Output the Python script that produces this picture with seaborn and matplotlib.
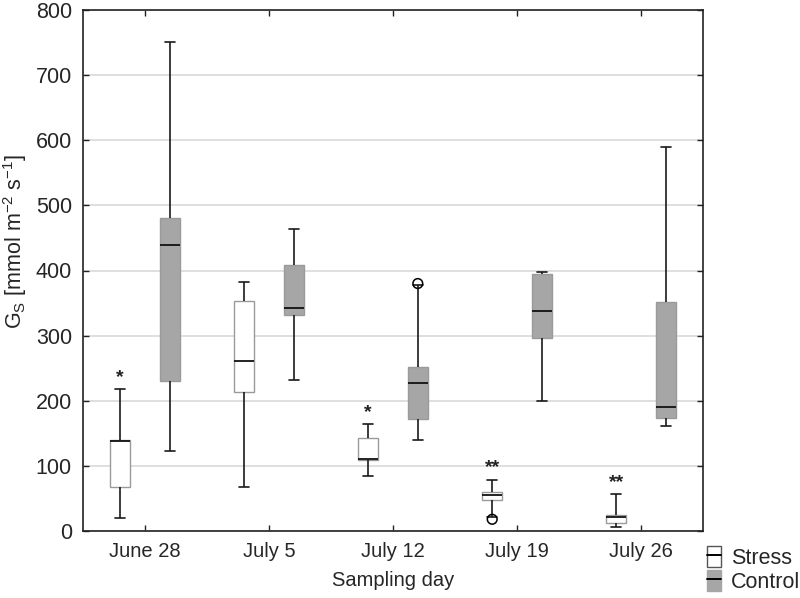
import numpy as np
import pandas as pd
import matplotlib
matplotlib.use("Agg")
import matplotlib.pyplot as plt
import seaborn as sns
from matplotlib.patches import Patch
from matplotlib.lines import Line2D
from matplotlib.legend_handler import HandlerTuple

# ---- data ----
days = ["June 28", "July 5", "July 12", "July 19", "July 26"]
groups = ["Stress", "Control"]

stress_min = [20, 68, 84, 22, 6]
stress_q1 = [67, 213, 109, 47, 13]
stress_med = [138, 261, 111, 55, 22]
stress_q3 = [140, 353, 143, 60, 24]
stress_max = [218, 383, 164, 79, 57]

control_min = [123, 232, 139, 200, 161]
control_q1 = [231, 331, 172, 297, 173]
control_med = [439, 343, 227, 338, 191]
control_q3 = [480, 408, 252, 395, 351]
control_max = [751, 463, 378, 398, 590]

outlier_day = ["July 12", "July 19"]
outlier_group = ["Control", "Stress"]
outlier_value = [380, 18]

stress_marks = ["*", "", "*", "**", "**"]

# ---- build long table from five-number summaries ----
rows = []
for i, d in enumerate(days):
    for v in (stress_min[i], stress_q1[i], stress_med[i], stress_q3[i], stress_max[i]):
        rows.append((d, "Stress", v))
    for v in (control_min[i], control_q1[i], control_med[i], control_q3[i], control_max[i]):
        rows.append((d, "Control", v))
df = pd.DataFrame(rows, columns=["day", "group", "value"])
out_df = pd.DataFrame({"day": outlier_day, "group": outlier_group, "value": outlier_value})

sns.set_style("white")
plt.rcParams["font.family"] = ["Liberation Sans", "DejaVu Sans"]
plt.rcParams["mathtext.fontset"] = "custom"
plt.rcParams["mathtext.rm"] = "Liberation Sans"
plt.rcParams["mathtext.it"] = "Liberation Sans:italic"

fig = plt.figure(figsize=(8.0, 5.98), dpi=100)
ax = fig.add_axes([83 / 800, 67 / 598, 620 / 800, 521 / 598])

palette = {"Stress": "white", "Control": "#a6a6a6"}
sns.boxplot(
    data=df, x="day", y="value", hue="group", order=days, hue_order=groups,
    palette=palette, whis=(0, 100), width=0.8, gap=0.6, dodge=True,
    linecolor="black", linewidth=1.2, showfliers=False, legend=False, ax=ax,
    boxprops=dict(edgecolor="#9a9a9a", linewidth=1.0),
    medianprops=dict(color="#111111", linewidth=1.3),
    whiskerprops=dict(color="#1a1a1a", linewidth=1.2),
    capprops=dict(color="#1a1a1a", linewidth=1.2),
)

sns.stripplot(
    data=out_df, x="day", y="value", hue="group", order=days, hue_order=groups,
    dodge=True, jitter=False, palette={"Stress": "black", "Control": "black"},
    marker="o", size=7, legend=False, ax=ax, zorder=5,
)
for coll in ax.collections:
    coll.set_facecolor("none")
    coll.set_edgecolor("black")
    coll.set_linewidth(1.1)

# significance marks above stress whiskers
for i, m in enumerate(stress_marks):
    if m:
        ax.text(i - 0.2, stress_max[i] + 5, m, ha="center", va="bottom",
                fontsize=14, fontweight="bold", color="#222222")

ax.set_ylim(0, 800)
ax.set_xlim(-0.5, 4.5)
ax.set_yticks(np.arange(0, 801, 100))
ax.yaxis.grid(True, color="#dcdcdc", linewidth=1.3)
ax.xaxis.grid(False)
ax.set_axisbelow(True)

for s in ax.spines.values():
    s.set_visible(True)
    s.set_color("#222222")
    s.set_linewidth(1.2)

ax.tick_params(axis="both", direction="in", length=4, width=1.0, color="#222222",
               top=True, right=True, bottom=True, left=True)
ax.tick_params(axis="y", labelsize=15.5, pad=8)
ax.tick_params(axis="x", labelsize=14.5, pad=8)

ax.set_xlabel("Sampling day", fontsize=14.5, labelpad=7)
ax.set_ylabel(r"G$_\mathregular{S}$ [mmol m$^\mathregular{-2}$ s$^\mathregular{-1}$]",
              fontsize=15.5)
ax.yaxis.set_label_coords(-0.087, 0.555)

handles = [
    (Patch(facecolor="white", edgecolor="#555555", linewidth=1.0),
     Line2D([], [], color="black", linewidth=1.4)),
    (Patch(facecolor="#a6a6a6", edgecolor="#a6a6a6", linewidth=1.0),
     Line2D([], [], color="black", linewidth=1.4)),
]
fig.legend(handles, groups, handler_map={tuple: HandlerTuple(ndivide=1, pad=0)},
           loc="upper left", bbox_to_anchor=(705 / 800, 1 - 544 / 598),
           frameon=False, fontsize=15.5, handlelength=0.65, handleheight=1.1,
           handletextpad=0.45, labelspacing=0.05, borderaxespad=0, borderpad=0.1)

fig.savefig("out.png", dpi=100)
